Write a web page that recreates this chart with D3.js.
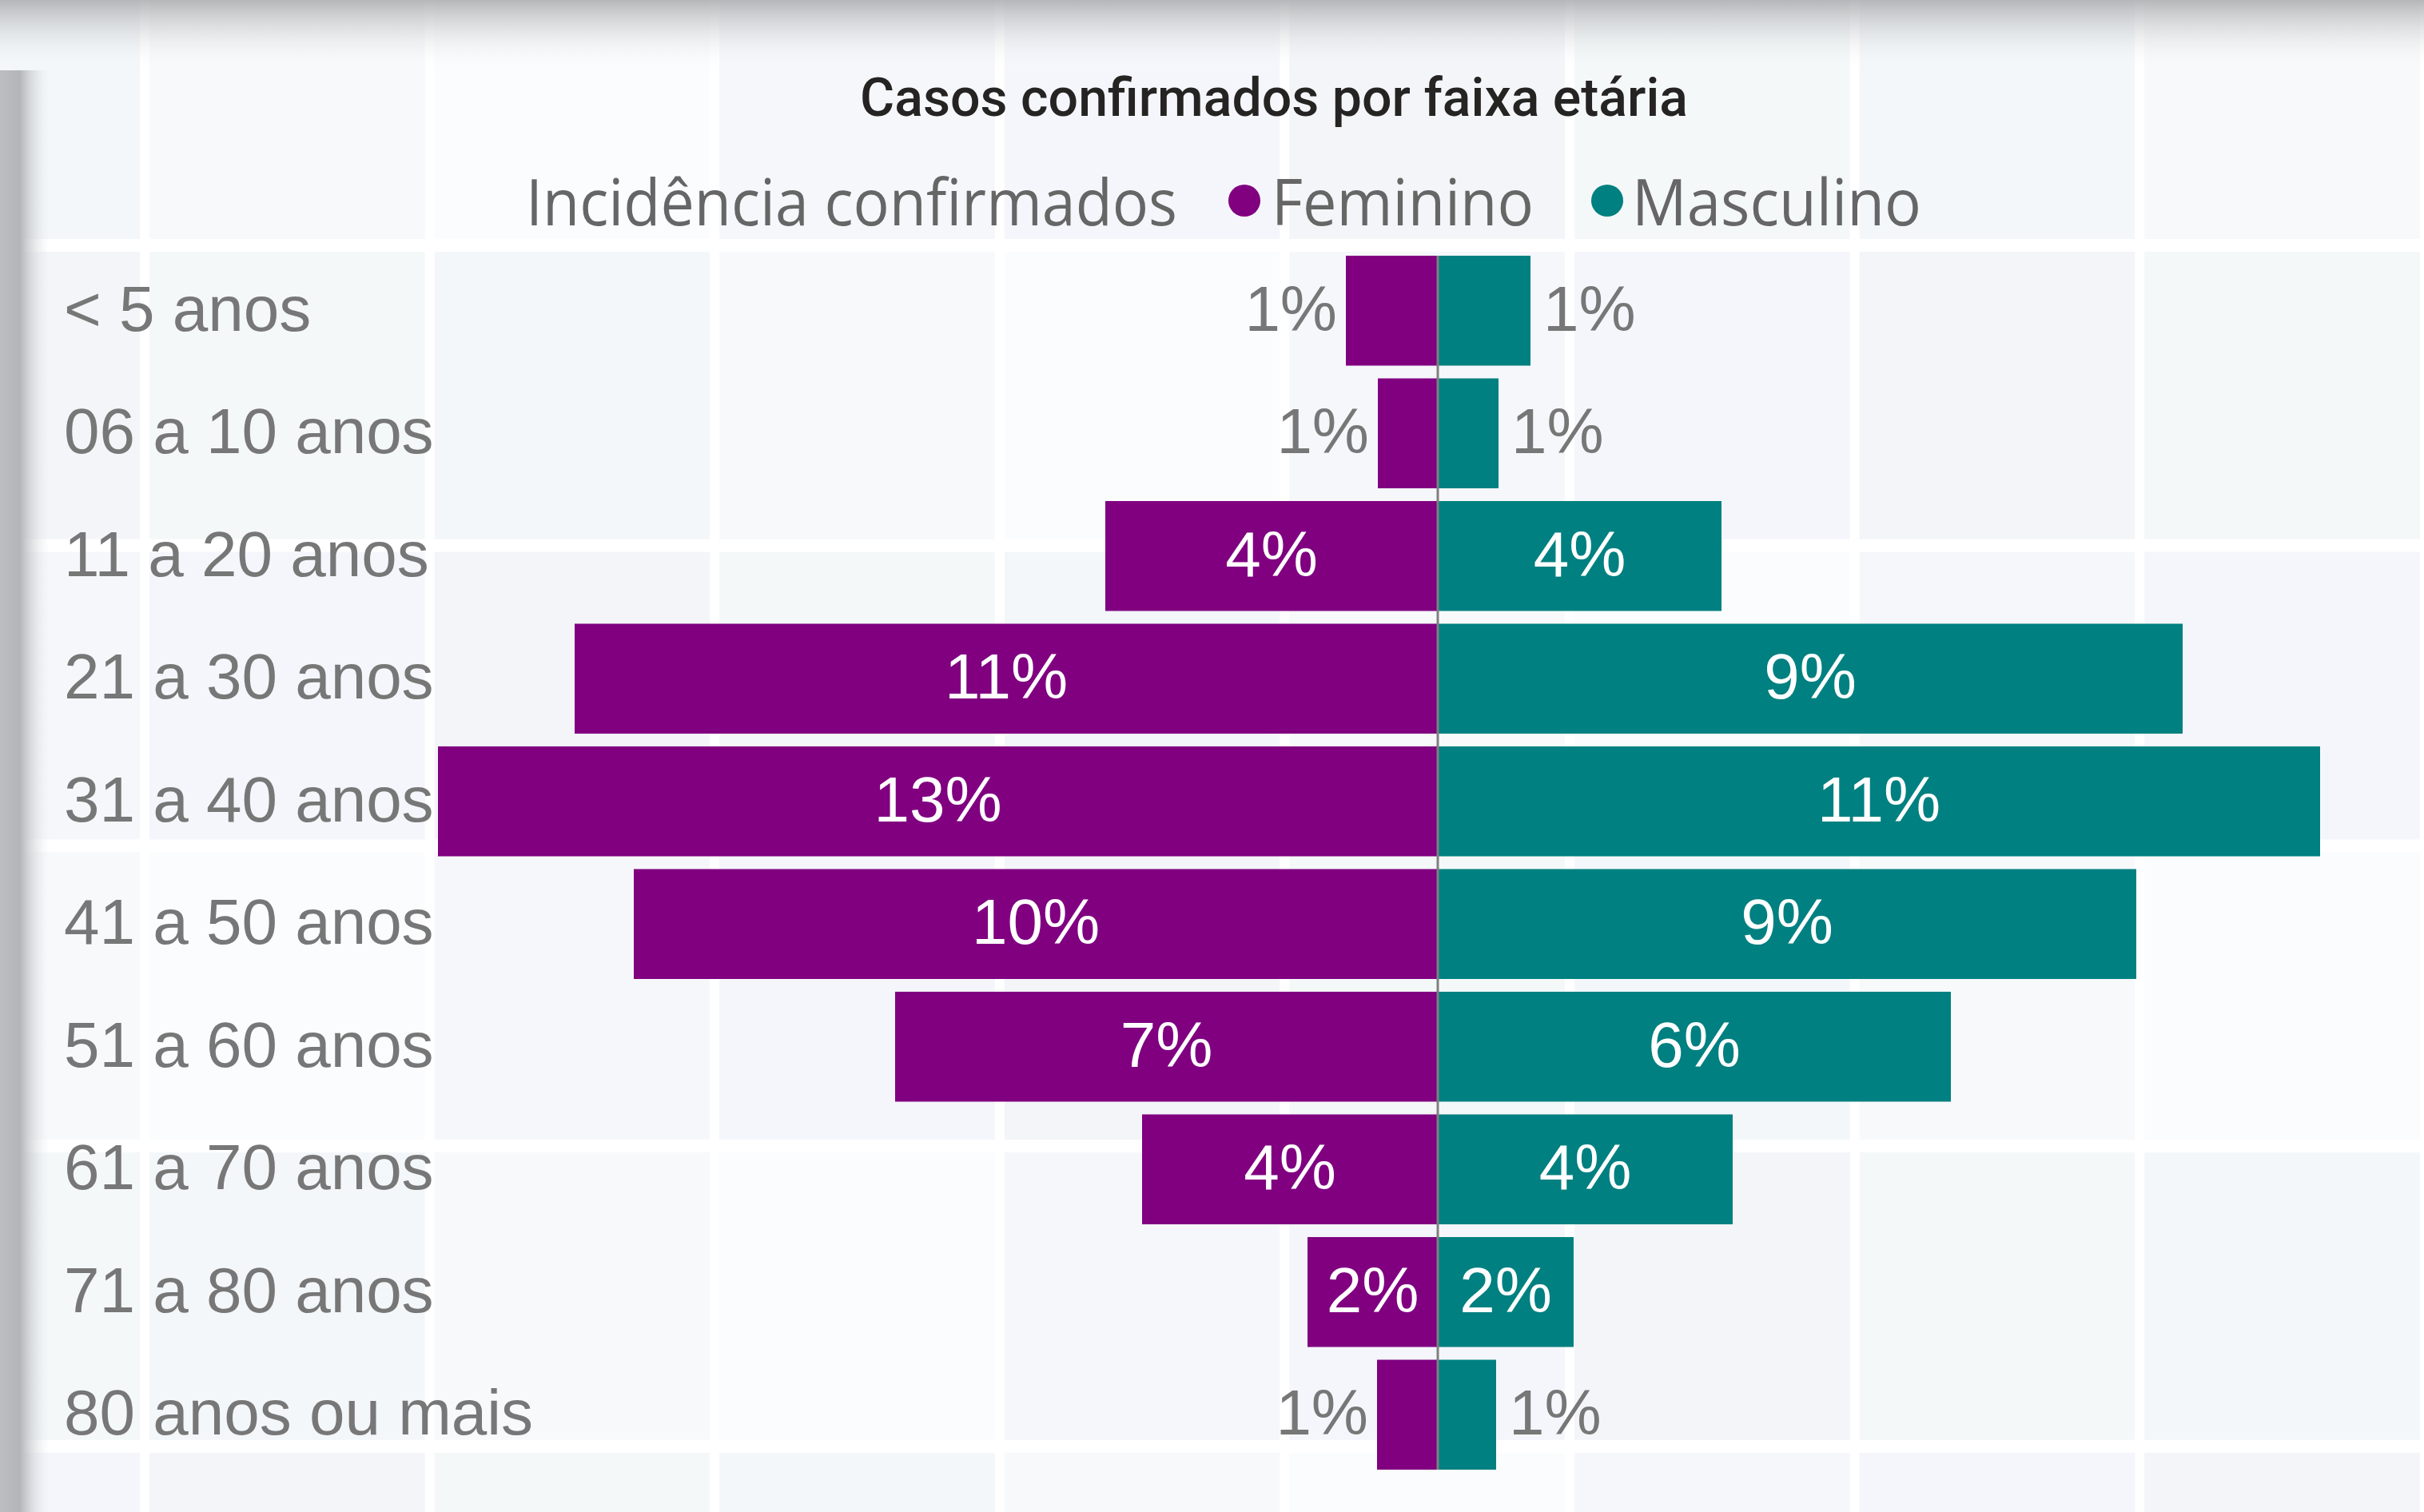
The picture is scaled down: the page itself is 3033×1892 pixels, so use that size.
<!DOCTYPE html>
<html>
<head>
<meta charset="utf-8">
<script src="https://cdn.jsdelivr.net/npm/d3@7"></script>
<style>
  html, body { margin: 0; padding: 0; background: #ffffff; }
  svg { display: block; }
</style>
</head>
<body>
<div id="chart"></div>
<script>
// data
var chartTitle = "Casos confirmados por faixa etária";
var legendTitle = "Incidência confirmados";
var categories = ["< 5 anos", "06 a 10 anos", "11 a 20 anos", "21 a 30 anos", "31 a 40 anos",
                  "41 a 50 anos", "51 a 60 anos", "61 a 70 anos", "71 a 80 anos", "80 anos ou mais"];
var feminino  = [1.15, 0.75, 4.16, 10.80, 12.51, 10.06, 6.79, 3.70, 1.63, 0.76];
var masculino = [1.16, 0.76, 3.55,  9.32, 11.04,  8.74, 6.42, 3.69, 1.70, 0.73];
var seriesNames = ["Feminino", "Masculino"];
var seriesColors = ["#800080", "#008080"];

var W = 3033, H = 1892;
var center = 1799;

var svg = d3.select("#chart")
  .append("svg")
  .attr("width", W)
  .attr("height", H);

var defs = svg.append("defs");

// background tiles (dashboard canvas look)
var tileColors = ["#f3f7fa", "#f5f6fc", "#f7f9fb", "#f3f5f8", "#fafcfe", "#f4f8f9", "#f6f7fb"];
var colPitch = 356.6, rowPitch = 375.7;
var bg = svg.append("g");
bg.append("rect").attr("width", W).attr("height", H).attr("fill", "#ffffff");
for (var i = -1; i < 9; i++) {
  for (var j = -1; j < 5; j++) {
    bg.append("rect")
      .attr("x", 181 + i * colPitch + 6)
      .attr("y", 307 + j * rowPitch + 8)
      .attr("width", colPitch - 12)
      .attr("height", rowPitch - 16)
      .attr("fill", tileColors[((i + 1) * 2 + (j + 1) * 3) % tileColors.length]);
  }
}

// top shadow
var topGrad = defs.append("linearGradient").attr("id", "topShade")
  .attr("x1", 0).attr("y1", 0).attr("x2", 0).attr("y2", 1);
topGrad.append("stop").attr("offset", "0%").attr("stop-color", "#a9abad").attr("stop-opacity", 0.85);
topGrad.append("stop").attr("offset", "35%").attr("stop-color", "#c4c6c8").attr("stop-opacity", 0.55);
topGrad.append("stop").attr("offset", "100%").attr("stop-color", "#ffffff").attr("stop-opacity", 0);
bg.append("rect").attr("x", 0).attr("y", 0).attr("width", W).attr("height", 90)
  .attr("fill", "url(#topShade)");

// left shadow strip
var leftGrad = defs.append("linearGradient").attr("id", "leftShade")
  .attr("x1", 0).attr("y1", 0).attr("x2", 1).attr("y2", 0);
leftGrad.append("stop").attr("offset", "0%").attr("stop-color", "#bcbec1").attr("stop-opacity", 1);
leftGrad.append("stop").attr("offset", "40%").attr("stop-color", "#b3b5b8").attr("stop-opacity", 1);
leftGrad.append("stop").attr("offset", "100%").attr("stop-color", "#e8eaed").attr("stop-opacity", 0);
bg.append("rect").attr("x", 0).attr("y", 88).attr("width", 62).attr("height", H - 88)
  .attr("fill", "url(#leftShade)");

// scales
var y = d3.scaleBand()
  .domain(categories)
  .range([312, 1847])
  .paddingInner(0.104)
  .paddingOuter(0.052);

var xLeft = d3.scaleLinear().domain([0, 14]).range([center, center - 1400]);
var xRight = d3.scaleLinear().domain([0, 14]).range([center, center + 1400]);

// title
svg.append("text")
  .attr("x", 1076)
  .attr("y", 145)
  .attr("font-family", "Roboto, sans-serif")
  .attr("font-weight", 500)
  .attr("font-size", 66)
  .attr("fill", "#252423")
  .attr("textLength", 1036)
  .attr("lengthAdjust", "spacingAndGlyphs")
  .text(chartTitle);

// legend
var legend = svg.append("g")
  .attr("font-family", "'Open Sans', sans-serif")
  .attr("font-size", 80)
  .attr("fill", "#666666");
legend.append("text").attr("x", 658).attr("y", 282)
  .attr("textLength", 815).attr("lengthAdjust", "spacingAndGlyphs")
  .text(legendTitle);
var legendItems = [
  {name: seriesNames[0], color: seriesColors[0], cx: 1557, tx: 1591, len: 328},
  {name: seriesNames[1], color: seriesColors[1], cx: 2011, tx: 2042, len: 362}
];
legendItems.forEach(function(d) {
  legend.append("circle").attr("cx", d.cx).attr("cy", 251).attr("r", 20).attr("fill", d.color);
  legend.append("text").attr("x", d.tx).attr("y", 282)
    .attr("textLength", d.len).attr("lengthAdjust", "spacingAndGlyphs")
    .text(d.name);
});

// category labels
svg.append("g")
  .selectAll("text")
  .data(categories)
  .enter()
  .append("text")
  .attr("x", 80)
  .attr("y", function(d) { return y(d) + y.bandwidth() / 2; })
  .attr("dy", "0.31em")
  .attr("font-family", "'Liberation Sans', Arial, sans-serif")
  .attr("font-size", 80)
  .attr("fill", "#777777")
  .text(function(d) { return d; });

// bars
var rows = categories.map(function(c, i) {
  return {cat: c, f: feminino[i], m: masculino[i]};
});

var bars = svg.append("g");
bars.selectAll("rect.fem")
  .data(rows)
  .enter()
  .append("rect")
  .attr("class", "fem")
  .attr("x", function(d) { return xLeft(d.f); })
  .attr("y", function(d) { return y(d.cat); })
  .attr("width", function(d) { return center - xLeft(d.f); })
  .attr("height", y.bandwidth())
  .attr("fill", seriesColors[0]);

bars.selectAll("rect.mas")
  .data(rows)
  .enter()
  .append("rect")
  .attr("class", "mas")
  .attr("x", center)
  .attr("y", function(d) { return y(d.cat); })
  .attr("width", function(d) { return xRight(d.m) - center; })
  .attr("height", y.bandwidth())
  .attr("fill", seriesColors[1]);

// center axis line
svg.append("line")
  .attr("x1", center).attr("x2", center)
  .attr("y1", y(categories[0]))
  .attr("y2", y(categories[categories.length - 1]) + y.bandwidth())
  .attr("stroke", "#808080")
  .attr("stroke-width", 3);

// data labels: inside (white, centred) when they fit, otherwise outside in grey
var labels = svg.append("g")
  .attr("font-family", "'Liberation Sans', Arial, sans-serif")
  .attr("font-size", 80);

function addLabel(d, side) {
  var v = side === "f" ? d.f : d.m;
  var edge = side === "f" ? xLeft(v) : xRight(v);
  var len = Math.abs(edge - center);
  var t = labels.append("text")
    .attr("y", y(d.cat) + y.bandwidth() / 2)
    .attr("dy", "0.31em")
    .text(Math.round(v) + "%");
  var tw = t.node().getComputedTextLength();
  if (len >= tw + 12) {
    t.attr("x", (edge + center) / 2).attr("text-anchor", "middle").attr("fill", "#ffffff");
  } else if (side === "f") {
    t.attr("x", edge - 11).attr("text-anchor", "end").attr("fill", "#777777");
  } else {
    t.attr("x", edge + 16).attr("text-anchor", "start").attr("fill", "#777777");
  }
}
rows.forEach(function(d) { addLabel(d, "f"); addLabel(d, "m"); });
</script>
</body>
</html>
